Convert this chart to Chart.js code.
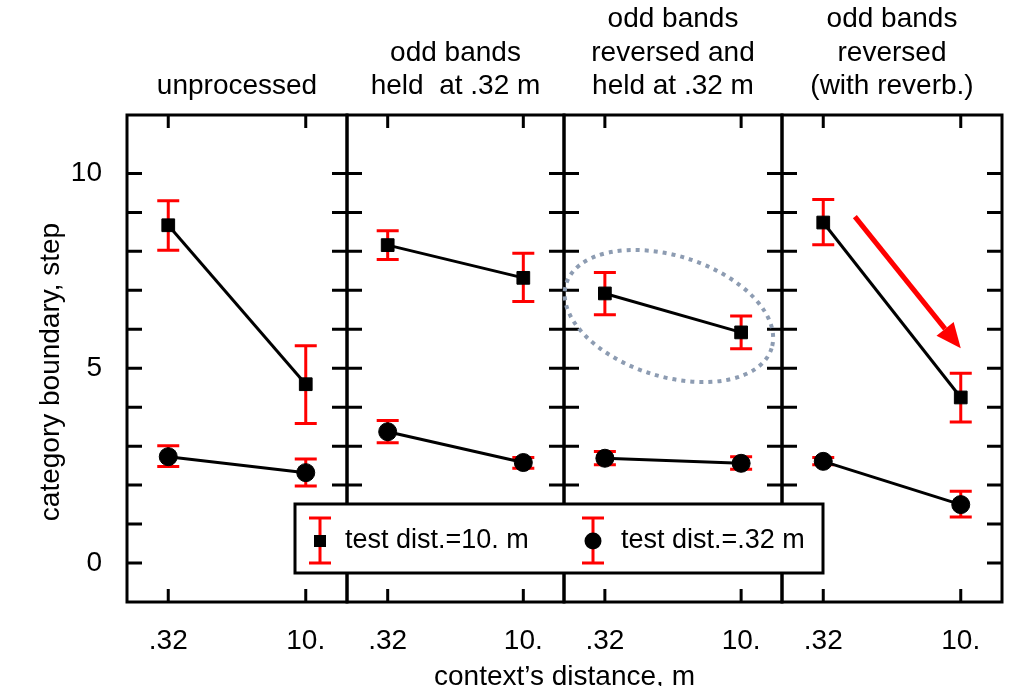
<!DOCTYPE html>
<html>
<head>
<meta charset="utf-8">
<script src="https://cdn.jsdelivr.net/npm/chart.js@4.4.1/dist/chart.umd.min.js"></script>
<style>
  html, body { margin: 0; padding: 0; background: #fff; }
  #wrap { position: relative; width: 1021px; height: 686px; overflow: hidden; }
  #wrap canvas { position: absolute; left: 0; top: 0; }
</style>
</head>
<body>
<div id="wrap">
  <canvas id="p0" width="1021" height="686"></canvas>
  <canvas id="p1" width="1021" height="686"></canvas>
  <canvas id="p2" width="1021" height="686"></canvas>
  <canvas id="p3" width="1021" height="686"></canvas>
</div>
<script>
// dados (limite de categoria, em passos)
const CONTEXT = [0, 1];                 // posição no eixo x: .32 m e 10. m
const CONTEXT_LABELS = ['.32', '10.'];
const PANEL_TITLES = [
  ['unprocessed'],
  ['odd bands', 'held  at .32 m'],
  ['odd bands', 'reversed and', 'held at .32 m'],
  ['odd bands', 'reversed', '(with reverb.)'],
];
const SERIES_LABELS = ['test dist.=10. m', 'test dist.=.32 m'];

const FAR_MEAN = [[8.67, 4.59], [8.16, 7.32], [6.92, 5.92], [8.74, 4.25]];
const FAR_HIGH = [[9.30, 5.58], [8.53, 7.95], [7.46, 6.34], [9.33, 4.87]];
const FAR_LOW  = [[8.03, 3.58], [7.79, 6.71], [6.37, 5.50], [8.17, 3.62]];

const NEAR_MEAN = [[2.73, 2.32], [3.37, 2.58], [2.69, 2.56], [2.61, 1.50]];
const NEAR_HIGH = [[3.01, 2.67], [3.66, 2.71], [2.86, 2.73], [2.71, 1.84]];
const NEAR_LOW  = [[2.48, 1.98], [3.09, 2.43], [2.52, 2.41], [2.52, 1.18]];

const Y_LABEL_TICKS = [0, 5, 10];
const Y_MINOR_TICKS = [0, 1, 2, 3, 4, 5, 6, 7, 8, 9, 10];
const Y_TITLE = 'category boundary, step';
const X_TITLE = 'context\u2019s distance, m';

// destaque do painel 3 (elipse) e seta do painel 4, em unidades dos eixos
const ELLIPSE_CENTER = [0.47, 6.34];
const ELLIPSE_RADII = [0.79, 1.55];
const ELLIPSE_TILT = 17.5;
const ARROW_X = [0.23, 1.0];
const ARROW_Y = [8.89, 5.51];

// layout (px)
const W = 1021, H = 686;
const PANEL_EDGES = [127, 347, 564, 782, 1002];
const PLOT_TOP = 115, PLOT_BOTTOM = 602;
const LEGEND_BOX = { left: 295, top: 504, right: 823, bottom: 573 };
const FONTE = '"Liberation Sans", Arial, sans-serif';
const VERMELHO = '#ff0000', PRETO = '#000000', ELIPSE_COR = '#8d9cb2';

Chart.defaults.font.family = FONTE;
Chart.defaults.font.size = 28;
Chart.defaults.color = PRETO;

function desenharBarras(chart, i) {
  const { ctx, scales: { x, y } } = chart;
  const series = [[FAR_MEAN, FAR_LOW, FAR_HIGH], [NEAR_MEAN, NEAR_LOW, NEAR_HIGH]];
  ctx.save();
  ctx.strokeStyle = VERMELHO;
  ctx.lineWidth = 3;
  series.forEach(([, lo, hi]) => {
    CONTEXT.forEach((c, k) => {
      const px = x.getPixelForValue(c);
      const yLo = y.getPixelForValue(lo[i][k]);
      const yHi = y.getPixelForValue(hi[i][k]);
      ctx.beginPath();
      ctx.moveTo(px, yLo); ctx.lineTo(px, yHi);
      ctx.moveTo(px - 11, yLo); ctx.lineTo(px + 11, yLo);
      ctx.moveTo(px - 11, yHi); ctx.lineTo(px + 11, yHi);
      ctx.stroke();
    });
  });
  ctx.restore();
}

function desenharMoldura(chart, i) {
  const { ctx, chartArea: a, scales: { x, y } } = chart;
  ctx.save();
  ctx.strokeStyle = PRETO;
  ctx.lineWidth = 3;
  ctx.beginPath();
  Y_MINOR_TICKS.forEach((v) => {
    const py = y.getPixelForValue(v);
    ctx.moveTo(a.left, py); ctx.lineTo(a.left + 15, py);
    ctx.moveTo(a.right, py); ctx.lineTo(a.right - 15, py);
  });
  CONTEXT.forEach((c) => {
    const px = x.getPixelForValue(c);
    ctx.moveTo(px, a.top); ctx.lineTo(px, a.top + 13);
    ctx.moveTo(px, a.bottom); ctx.lineTo(px, a.bottom - 13);
  });
  ctx.stroke();
  ctx.strokeRect(a.left, a.top, a.right - a.left, a.bottom - a.top);

  // título do painel, alinhado pela última linha
  const linhas = PANEL_TITLES[i];
  ctx.fillStyle = PRETO;
  ctx.font = '28px ' + FONTE;
  ctx.textAlign = 'center';
  ctx.textBaseline = 'alphabetic';
  linhas.forEach((t, k) => {
    ctx.fillText(t, (a.left + a.right) / 2, 94 - (linhas.length - 1 - k) * 33.3);
  });
  ctx.restore();
}

function desenharElipse(chart) {
  const { ctx, scales: { x, y } } = chart;
  const cx = x.getPixelForValue(ELLIPSE_CENTER[0]);
  const cy = y.getPixelForValue(ELLIPSE_CENTER[1]);
  const rx = Math.abs(x.getPixelForValue(ELLIPSE_CENTER[0] + ELLIPSE_RADII[0]) - cx);
  const ry = Math.abs(y.getPixelForValue(ELLIPSE_CENTER[1] + ELLIPSE_RADII[1]) - cy);
  ctx.save();
  ctx.strokeStyle = ELIPSE_COR;
  ctx.lineWidth = 4;
  ctx.setLineDash([4, 5]);
  ctx.beginPath();
  ctx.ellipse(cx, cy, rx, ry, ELLIPSE_TILT * Math.PI / 180, 0, Math.PI * 2);
  ctx.stroke();
  ctx.restore();
}

function desenharSeta(chart) {
  const { ctx, scales: { x, y } } = chart;
  const x0 = x.getPixelForValue(ARROW_X[0]), y0 = y.getPixelForValue(ARROW_Y[0]);
  const x1 = x.getPixelForValue(ARROW_X[1]), y1 = y.getPixelForValue(ARROW_Y[1]);
  const ang = Math.atan2(y1 - y0, x1 - x0);
  const cab = 25, larg = 11;
  const bx = x1 - cab * Math.cos(ang), by = y1 - cab * Math.sin(ang);
  ctx.save();
  ctx.strokeStyle = VERMELHO;
  ctx.fillStyle = VERMELHO;
  ctx.lineWidth = 5;
  ctx.beginPath();
  ctx.moveTo(x0, y0); ctx.lineTo(bx, by);
  ctx.stroke();
  ctx.beginPath();
  ctx.moveTo(x1, y1);
  ctx.lineTo(bx + larg * Math.sin(ang), by - larg * Math.cos(ang));
  ctx.lineTo(bx - larg * Math.sin(ang), by + larg * Math.cos(ang));
  ctx.closePath();
  ctx.fill();
  ctx.restore();
}

function desenharLegenda(ctx) {
  const L = LEGEND_BOX;
  const cy = 541;
  ctx.save();
  ctx.fillStyle = '#fff';
  ctx.fillRect(L.left, L.top, L.right - L.left, L.bottom - L.top);
  ctx.strokeStyle = PRETO;
  ctx.lineWidth = 3;
  ctx.strokeRect(L.left, L.top, L.right - L.left, L.bottom - L.top);

  const itens = [{ x: 320, txt: 345, forma: 'rect' }, { x: 593, txt: 621, forma: 'circle' }];
  itens.forEach((it, k) => {
    ctx.strokeStyle = VERMELHO;
    ctx.lineWidth = 3;
    ctx.beginPath();
    ctx.moveTo(it.x, cy - 23); ctx.lineTo(it.x, cy + 22);
    ctx.moveTo(it.x - 11, cy - 23); ctx.lineTo(it.x + 11, cy - 23);
    ctx.moveTo(it.x - 11, cy + 22); ctx.lineTo(it.x + 11, cy + 22);
    ctx.stroke();
    ctx.fillStyle = PRETO;
    ctx.beginPath();
    if (it.forma === 'rect') ctx.rect(it.x - 6, cy - 6, 12, 12);
    else ctx.arc(it.x, cy, 8.5, 0, Math.PI * 2);
    ctx.fill();
    ctx.font = '27px ' + FONTE;
    ctx.textAlign = 'left';
    ctx.textBaseline = 'middle';
    ctx.fillText(SERIES_LABELS[k], it.txt, cy);
  });
  ctx.restore();
}

function pluginPainel(i) {
  return {
    id: 'painel' + i,
    beforeDatasetsDraw(chart) { desenharBarras(chart, i); },
    afterDraw(chart) {
      desenharMoldura(chart, i);
      if (i === 2) desenharElipse(chart);
      if (i === 3) desenharSeta(chart);
      const ctx = chart.ctx;
      if (i === 0) {
        ctx.save();
        ctx.translate(51, 372);
        ctx.rotate(-Math.PI / 2);
        ctx.font = '28px ' + FONTE;
        ctx.fillStyle = PRETO;
        ctx.textAlign = 'center';
        ctx.textBaseline = 'middle';
        ctx.fillText(Y_TITLE, 0, 0);
        ctx.restore();
      }
      if (i === 3) {
        desenharLegenda(ctx);
        ctx.save();
        ctx.font = '28px ' + FONTE;
        ctx.fillStyle = PRETO;
        ctx.textAlign = 'center';
        ctx.textBaseline = 'alphabetic';
        ctx.fillText(X_TITLE, (PANEL_EDGES[0] + PANEL_EDGES[4]) / 2, 685);
        ctx.restore();
      }
    },
  };
}

function serie(media, i, label, estilo) {
  return {
    label,
    data: CONTEXT.map((c, k) => ({ x: c, y: media[i][k] })),
    borderColor: PRETO, borderWidth: 3, tension: 0,
    pointStyle: estilo, pointRadius: 9,
    pointBackgroundColor: PRETO, pointBorderColor: PRETO, pointBorderWidth: 1,
  };
}

PANEL_TITLES.forEach((_, i) => {
  new Chart(document.getElementById('p' + i), {
    type: 'line',
    data: {
      datasets: [
        serie(FAR_MEAN, i, SERIES_LABELS[0], 'rect'),
        serie(NEAR_MEAN, i, SERIES_LABELS[1], 'circle'),
      ],
    },
    options: {
      responsive: false, animation: false, events: [],
      layout: { padding: { top: PLOT_TOP, bottom: 0,
                           left: i === 0 ? 0 : PANEL_EDGES[i],
                           right: W - PANEL_EDGES[i + 1] } },
      plugins: { legend: { display: false }, tooltip: { enabled: false } },
      scales: {
        x: {
          type: 'linear', min: -0.3, max: 1.3,
          grid: { display: false }, border: { display: false },
          afterBuildTicks: (s) => { s.ticks = CONTEXT.map((v) => ({ value: v })); },
          afterFit: (s) => { s.height = H - PLOT_BOTTOM; },
          ticks: { padding: 14, maxRotation: 0, autoSkip: false,
                   callback: (v, idx) => CONTEXT_LABELS[idx] },
        },
        y: {
          type: 'linear', min: -1, max: 11.5, display: i === 0,
          grid: { display: false }, border: { display: false },
          afterBuildTicks: (s) => { s.ticks = Y_LABEL_TICKS.map((v) => ({ value: v })); },
          afterFit: (s) => { s.width = i === 0 ? PANEL_EDGES[0] : 0; },
          ticks: { padding: 17 },
        },
      },
    },
    plugins: [pluginPainel(i)],
  });
});
</script>
</body>
</html>
